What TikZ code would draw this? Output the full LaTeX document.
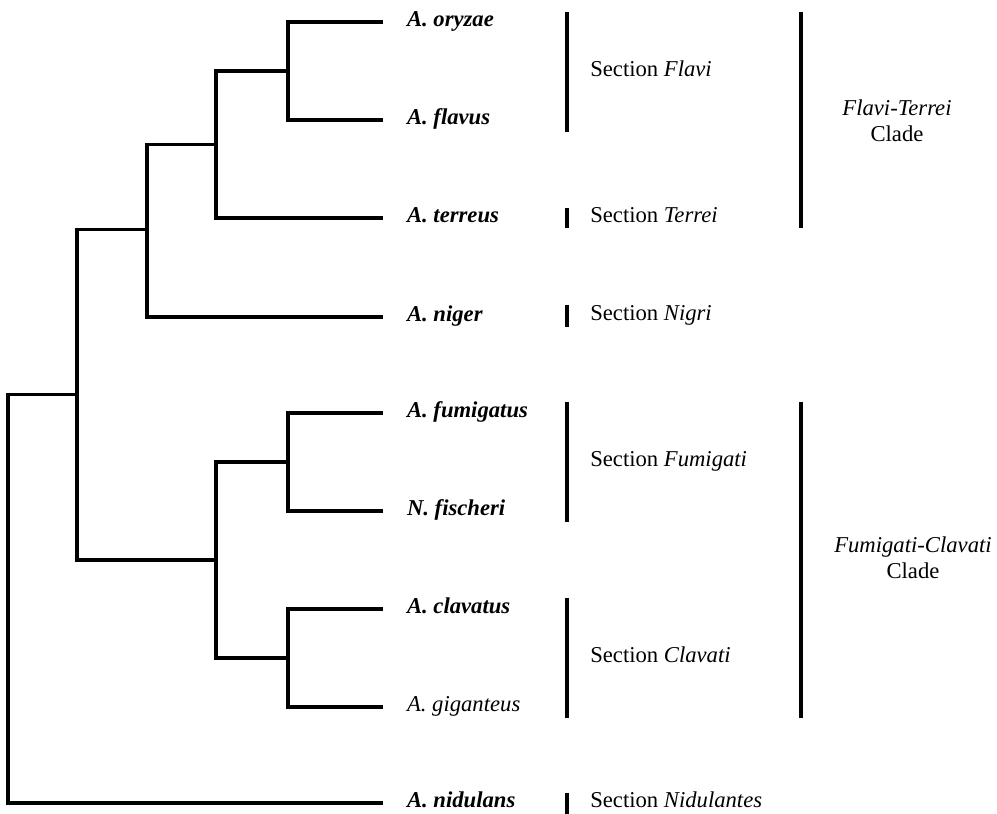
\documentclass[tikz,border=0pt]{standalone}
\usepackage{fontspec}
\setmainfont{Liberation Serif}
\begin{document}
\begin{tikzpicture}[x=0.75pt,y=-0.75pt,line join=miter,line cap=butt]
	\tikzset{every node/.style={font=\fontsize{17}{19.5}\selectfont},
		leaf/.style={anchor=west,inner sep=0pt,outer xsep=18pt,text height=0.66em,text depth=0pt,font=\fontsize{17}{19.5}\selectfont\bfseries\itshape},
		sect/.style={anchor=west,inner sep=0pt,text height=0.66em,text depth=0pt},
		clade/.style={align=center,inner sep=0pt},
		branch/.style={line width=2.6pt},
		bar/.style={line width=3pt}}
	\useasboundingbox (0,0) rectangle (997,814);
	\foreach \nm/\y/\txt in {oryzae/22/A. oryzae,flavus/120/A. flavus,terreus/218/A. terreus,niger/317/A. niger,fumigatus/413/A. fumigatus,fischeri/511/N. fischeri,clavatus/609/A. clavatus,nidulans/803/A. nidulans}
	\node[leaf] (\nm) at (383,\y) {\txt};
	\node[leaf,font=\fontsize{17}{19.5}\selectfont\itshape] (giganteus) at (383,707) {A. giganteus};
	\coordinate (of) at (288,71);
	\coordinate (ft) at (216,144.5);
	\coordinate (ftn) at (147,229.5);
	\coordinate (ff) at (288,462);
	\coordinate (cg) at (288,658);
	\coordinate (fc) at (216,560);
	\coordinate (asp) at (77,394.75);
	\coordinate (root) at (8,394.75);
	\foreach \a/\b/\c in {oryzae.west/of/flavus.west,of/ft/terreus.west,ft/ftn/niger.west,fumigatus.west/ff/fischeri.west,clavatus.west/cg/giganteus.west,ff/fc/cg,ftn/asp/fc,asp/root/nidulans.west}
	\draw[branch] (\a) -| (\b) |- (\c);
	\foreach \x/\ya/\yb in {567/12/132,567/208/228,567/305/327,567/402/522,567/598/718,567/793/814,801/12/228,801/402/718}
	\draw[bar] (\x,\ya) -- (\x,\yb);
	\foreach \y/\nm in {72/Flavi,218/Terrei,316/Nigri,462/Fumigati,658/Clavati,803/Nidulantes}
	\node[sect] (sec\nm) at (590,\y) {Section \textit{\nm}};
	\node[clade] (cladeFT) at (897,121) {\textit{Flavi-Terrei}\\Clade};
	\node[clade] (cladeFC) at (913,558) {\textit{Fumigati-Clavati}\\Clade};
\end{tikzpicture}
\end{document}
